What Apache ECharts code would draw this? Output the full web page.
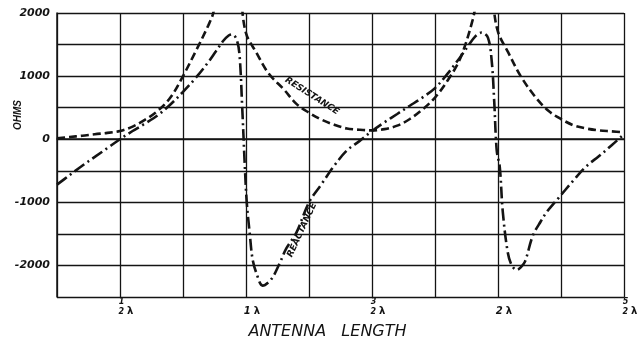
<!DOCTYPE html>
<html>
<head>
<meta charset="utf-8">
<script src="https://cdn.jsdelivr.net/npm/echarts@6/dist/echarts.min.js"></script>
<style>
html, body { margin: 0; padding: 0; background: #fff; }
#chart { width: 637px; height: 339px; }
</style>
</head>
<body>
<div id="chart"></div>
<script>
// antenna length in wavelengths (x) and ohms (y)
var resLambda = [0.25, 0.3, 0.35, 0.4, 0.45, 0.5, 0.55, 0.6, 0.65, 0.7, 0.75, 0.8, 0.85, 0.87, 0.9, 0.93, 0.96, 0.98, 1.0,
    1.04, 1.09, 1.15, 1.2, 1.25, 1.3, 1.35, 1.4, 1.45, 1.5, 1.55, 1.6, 1.65, 1.7, 1.75, 1.8, 1.85, 1.9, 1.93, 1.96, 1.98,
    2.0, 2.04, 2.09, 2.15, 2.2, 2.25, 2.3, 2.35, 2.4, 2.45, 2.5];
var resOhms = [15, 35, 55, 80, 100, 130, 200, 310, 450, 660, 1000, 1390, 1800, 2000, 2600, 3100, 3000, 2250, 1680,
    1380, 1040, 790, 560, 420, 310, 230, 170, 150, 140, 160, 215, 320, 470, 660, 930, 1280, 1900, 2500, 2700, 2150,
    1700, 1380, 1000, 660, 450, 320, 220, 170, 140, 125, 110];

var reactLambda = [0.25, 0.3, 0.35, 0.4, 0.45, 0.5, 0.55, 0.6, 0.65, 0.7, 0.75, 0.8, 0.85, 0.88, 0.91, 0.93, 0.945, 0.962, 0.974, 0.985, 0.995,
    1.003, 1.015, 1.026, 1.042, 1.066, 1.1, 1.133, 1.16, 1.2, 1.25, 1.3, 1.35, 1.4, 1.45, 1.5, 1.55, 1.6, 1.65, 1.7, 1.75, 1.8, 1.85,
    1.88, 1.91, 1.935, 1.96, 1.975, 1.985, 1.995, 2.007, 2.019, 2.039, 2.055, 2.075, 2.09, 2.107, 2.138, 2.17, 2.194, 2.234,
    2.3, 2.35, 2.4, 2.45, 2.5];
var reactOhms = [-720, -570, -420, -280, -140, 0, 130, 250, 380, 550, 750, 970, 1220, 1390, 1560, 1640, 1660, 1590, 1350, 500, -400,
    -1000, -1500, -1900, -2130, -2320, -2220, -1970, -1730, -1480, -1000, -710, -420, -180, -30, 130, 270, 400, 530, 660, 810, 1040, 1300,
    1470, 1630, 1690, 1610, 1240, 600, -180, -440, -1150, -1800, -2000, -2070, -2030, -1940, -1530, -1300, -1150, -960,
    -650, -430, -270, -100, 80];

// fraction labels under the x axis: [numerator, denominator]
var xTickLabels = { '0.5': ['1', '2'], '1': ['', '1'], '1.5': ['3', '2'], '2': ['', '2'], '2.5': ['5', '2'] };
var yTickLabels = [2000, 1000, 0, -1000, -2000];

function pairs(xs, ys) {
    var out = [];
    for (var i = 0; i < xs.length; i++) {
        out.push([xs[i], ys[i]]);
    }
    return out;
}

var ink = '#141414';
var font = 'DejaVu Sans';

var chart = echarts.init(document.getElementById('chart'), null, { renderer: 'canvas' });
var option = {
    backgroundColor: '#fff',
    animation: false,
    grid: {
        left: 57,
        right: 13,
        top: 13,
        bottom: 42,
        outerBoundsMode: 'none'
    },
    xAxis: {
        type: 'value',
        min: 0.25,
        max: 2.5,
        interval: 0.25,
        axisLine: { lineStyle: { color: ink, width: 1.5 } },
        axisTick: { show: false },
        splitLine: { lineStyle: { color: ink, width: 1.3 } },
        axisLabel: {
            margin: 1,
            color: ink,
            padding: [0, 0, 0, 12],
            formatter: function (v) {
                var t = xTickLabels[String(+v.toFixed(2))];
                if (!t) return '';
                if (t[0] === '') return '{n| }{g|}\n{w|' + t[1] + '}{l|λ}';
                return '{n|' + t[0] + '}{g|}\n{n|' + t[1] + '}{l|λ}';
            },
            rich: {
                n: { fontFamily: font, fontStyle: 'italic', fontWeight: 'bold', fontSize: 8, lineHeight: 8, color: ink },
                w: { fontFamily: font, fontStyle: 'italic', fontWeight: 'bold', fontSize: 10, lineHeight: 11, color: ink },
                l: { fontFamily: font, fontWeight: 'bold', fontSize: 10, lineHeight: 11, padding: [0, 0, 0, 3], color: ink },
                g: { width: 9, fontSize: 8, lineHeight: 8 }
            }
        },
        name: 'ANTENNA   LENGTH',
        nameLocation: 'middle',
        nameGap: 27,
        nameTextStyle: {
            fontFamily: font,
            fontStyle: 'italic',
            fontSize: 16,
            color: ink,
            padding: [0, 26, 0, 0]
        }
    },
    yAxis: {
        type: 'value',
        min: -2500,
        max: 2000,
        interval: 500,
        axisLine: { show: true, lineStyle: { color: ink, width: 1.5 } },
        axisTick: { show: false },
        splitLine: { lineStyle: { color: ink, width: 1.3 } },
        axisLabel: {
            margin: 7,
            color: ink,
            fontFamily: font,
            fontStyle: 'italic',
            fontWeight: 'bold',
            fontSize: 11,
            formatter: function (v) {
                return yTickLabels.indexOf(v) >= 0 ? String(v) : '';
            }
        }
    },
    graphic: [
        {
            type: 'text', x: 18, y: 115, rotation: Math.PI / 2,
            style: { text: 'OHMS', fill: ink, font: 'italic bold 10px "Liberation Sans"', align: 'center', verticalAlign: 'middle' }
        },
        {
            type: 'text', x: 312, y: 96, rotation: -0.57,
            style: { text: 'RESISTANCE', fill: ink, font: 'italic bold 9px "DejaVu Sans"', align: 'center', verticalAlign: 'middle' }
        },
        {
            type: 'text', x: 302, y: 230, rotation: 1.14,
            style: { text: 'REACTANCE', fill: ink, font: 'italic bold 9px "DejaVu Sans"', align: 'center', verticalAlign: 'middle' }
        }
    ],
    series: [
        {
            name: 'Resistance',
            type: 'line',
            symbol: 'none',
            smooth: 0.35,
            clip: true,
            lineStyle: { color: ink, width: 2.6, type: [8, 4] },
            data: pairs(resLambda, resOhms)
        },
        {
            name: 'Reactance',
            type: 'line',
            symbol: 'none',
            smooth: 0.35,
            clip: true,
            lineStyle: { color: ink, width: 2.6, type: [12, 4, 2, 4] },
            data: pairs(reactLambda, reactOhms)
        }
    ]
};
chart.setOption(option);
</script>
</body>
</html>
